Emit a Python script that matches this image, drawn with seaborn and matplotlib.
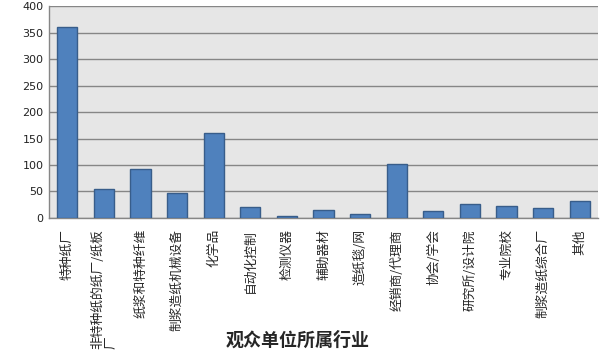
import matplotlib
matplotlib.use("Agg")
import matplotlib.pyplot as plt
import seaborn as sns
import pandas as pd

# 观众单位所属行业
categories = ["特种纸厂", "非特种纸的纸厂/纸板\n厂", "纸浆和特种纤维", "制浆造纸机械设备",
              "化学品", "自动化控制", "检测仪器", "辅助器材", "造纸毯/网",
              "经销商/代理商", "协会/学会", "研究所/设计院", "专业院校",
              "制浆造纸综合厂", "其他"]
counts = [360, 54, 92, 47, 160, 20, 3, 16, 7, 101, 13, 26, 22, 18, 33]
yticks = [0, 50, 100, 150, 200, 250, 300, 350, 400]

df = pd.DataFrame({"industry": categories, "count": counts})

sns.set_style("white")
plt.rcParams['font.family'] = ['Noto Sans CJK SC', 'DejaVu Sans']

fig = plt.figure(figsize=(6.08, 3.57), dpi=100)
ax = fig.add_axes([0.0806, 0.3894, 0.903, 0.5936])
ax.set_facecolor("#e6e6e6")

sns.barplot(data=df, x="industry", y="count", color="#4f81bd", saturation=1,
            width=0.55, edgecolor="#385d8a", linewidth=1, ax=ax, zorder=3)

ax.set_ylim(0, 400)
ax.set_yticks(yticks)
ax.set_yticklabels([str(v) for v in yticks], family="DejaVu Sans", fontsize=8, color="#222222")
ax.yaxis.grid(True, color="#868686", linewidth=1, zorder=0)
ax.set_axisbelow(True)
ax.tick_params(axis="y", length=0, pad=4)
ax.tick_params(axis="x", length=0, pad=8)
ax.set_xticks(range(len(categories)))
ax.set_xticklabels(categories, rotation=90, fontsize=9.2, va="top", ha="center",
                   multialignment="left", linespacing=1.0)
ax.set_xlabel("")
ax.set_ylabel("")
fig.text(0.49, 0.047, "观众单位所属行业", fontsize=13, fontweight="bold",
         ha="center", va="center")

for side in ["top", "right"]:
    ax.spines[side].set_visible(False)
for side in ["left", "bottom"]:
    ax.spines[side].set_color("#868686")
    ax.spines[side].set_linewidth(1)

fig.savefig("out.png", dpi=100)
